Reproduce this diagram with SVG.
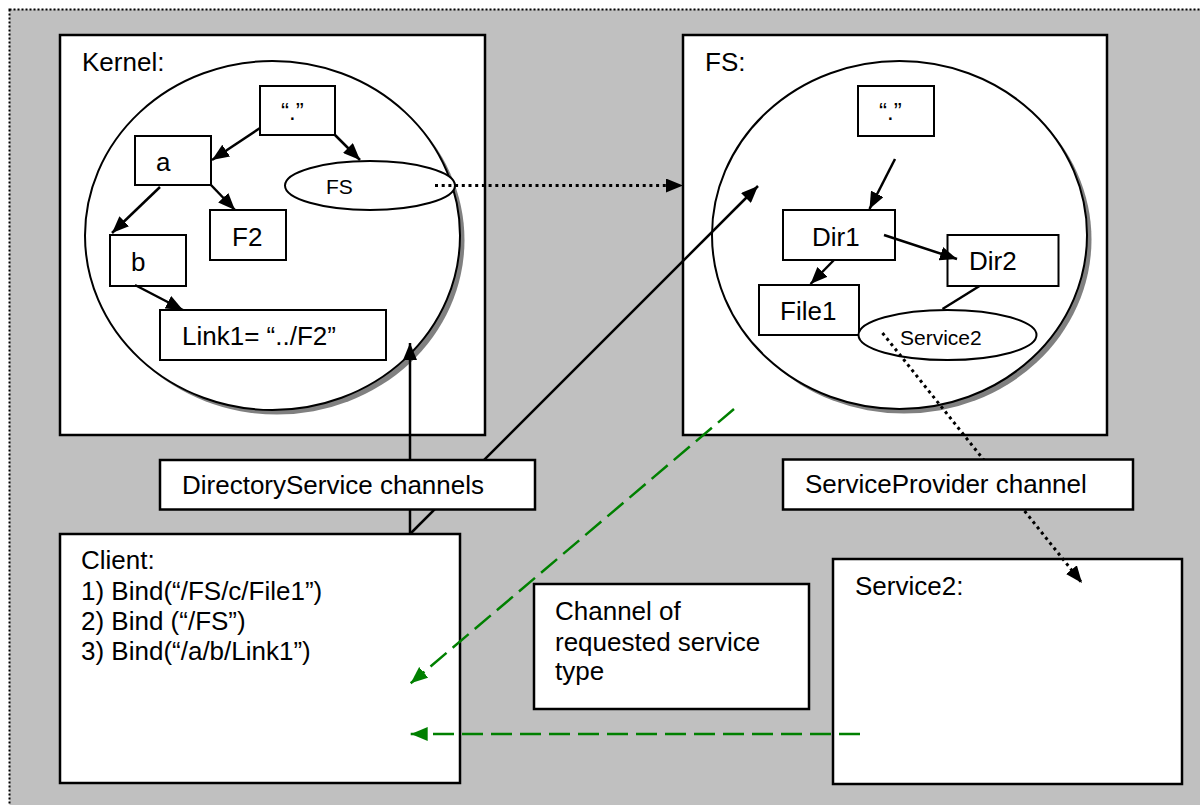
<svg xmlns="http://www.w3.org/2000/svg" width="1200" height="805" viewBox="0 0 1200 805">
  <defs>
    <style>
      text { font-family: "Liberation Sans", Arial, sans-serif; fill: #000; }
      .lbl { font-size: 26px; }
      .sm { font-size: 21px; }
      .q { font-size: 24px; }
      .box { fill: #fff; stroke: #000; stroke-width: 2.5; }
      .node { fill: #fff; stroke: #000; stroke-width: 2; }
      .disc { fill: #fff; stroke: #000; stroke-width: 2; }
      .shadow { fill: #808080; }
      .solid { fill: none; stroke: #000; stroke-width: 2.5; }
      .dotted { fill: none; stroke: #000; stroke-width: 3; stroke-dasharray: 3 3.7; }
      .dashed { fill: none; stroke: #008000; stroke-width: 2.5; stroke-dasharray: 21 8; }
    </style>
    <marker id="ah" markerUnits="userSpaceOnUse" markerWidth="17" markerHeight="14" refX="17" refY="7" orient="auto">
      <path d="M0,0 L17,7 L0,14 z" fill="#000"/>
    </marker>
    <marker id="ahg" markerUnits="userSpaceOnUse" markerWidth="17" markerHeight="14" refX="17" refY="7" orient="auto">
      <path d="M0,0 L17,7 L0,14 z" fill="#008000"/>
    </marker>
  </defs>

  <!-- background canvas with dotted frame -->
  <rect x="0" y="0" width="1200" height="805" fill="#fff"/>
  <rect x="9.5" y="9.5" width="1200" height="805" fill="#c0c0c0" stroke="#000" stroke-width="2" stroke-dasharray="2 2"/>

  <!-- Kernel process -->
  <g id="kernel">
    <rect class="box" x="60" y="35" width="425" height="400"/>
    <text class="lbl" x="82" y="71">Kernel:</text>
    <ellipse class="shadow" cx="277" cy="240" rx="187.5" ry="174.5"/>
    <ellipse class="disc" cx="272.5" cy="235.5" rx="187.5" ry="174.5"/>
  </g>
  <g id="k-root">
    <rect class="node" x="260" y="86" width="75" height="49"/>
    <text class="q" x="281" y="120">“.”</text>
  </g>
  <g id="k-a">
    <rect class="node" x="135" y="136" width="76" height="49"/>
    <text class="lbl" x="156" y="171">a</text>
  </g>
  <g id="k-f2">
    <rect class="node" x="210" y="210" width="76" height="50"/>
    <text class="lbl" x="232" y="246">F2</text>
  </g>
  <g id="k-b">
    <rect class="node" x="110" y="235" width="76" height="51"/>
    <text class="lbl" x="131" y="271">b</text>
  </g>
  <g id="k-link1">
    <rect class="node" x="160" y="310" width="226" height="50"/>
    <text class="lbl" x="182" y="345">Link1= “../F2”</text>
  </g>
  <g id="k-fs">
    <ellipse class="disc" cx="370" cy="185.5" rx="85" ry="24.5"/>
    <text class="sm" x="326" y="194">FS</text>
  </g>

  <!-- FS process -->
  <g id="fs">
    <rect class="box" x="683" y="35" width="424" height="400"/>
    <text class="lbl" x="705" y="71">FS:</text>
    <ellipse class="shadow" cx="904" cy="239.5" rx="187.5" ry="174"/>
    <ellipse class="disc" cx="899.5" cy="235" rx="187.5" ry="174"/>
  </g>
  <g id="fs-root">
    <rect class="node" x="858" y="86" width="76" height="50"/>
    <text class="q" x="879" y="120">“.”</text>
  </g>
  <g id="fs-dir1">
    <rect class="node" x="783" y="210" width="112" height="50"/>
    <text class="lbl" x="812" y="246">Dir1</text>
  </g>
  <g id="fs-dir2">
    <rect class="node" x="947.5" y="235" width="111" height="51"/>
    <text class="lbl" x="969" y="270">Dir2</text>
  </g>
  <g id="fs-file1">
    <rect class="node" x="759" y="285" width="100" height="50"/>
    <text class="lbl" x="780" y="320">File1</text>
  </g>
  <g id="fs-service2">
    <ellipse class="disc" cx="947.5" cy="335" rx="89" ry="25"/>
    <text class="sm" x="900" y="345">Service2</text>
  </g>

  <!-- Client process -->
  <g id="client">
    <rect class="box" x="60" y="534" width="400" height="249"/>
    <text class="lbl" x="81" y="569">Client:</text>
    <text class="lbl" x="81" y="600">1) Bind(“/FS/c/File1”)</text>
    <text class="lbl" x="81" y="630">2) Bind (“/FS”)</text>
    <text class="lbl" x="81" y="660">3) Bind(“/a/b/Link1”)</text>
  </g>

  <!-- Service2 process -->
  <g id="service2">
    <rect class="box" x="833" y="559" width="349" height="225"/>
    <text class="lbl" x="855" y="595">Service2:</text>
  </g>

  <!-- note box -->
  <g id="channel-note">
    <rect class="box" x="534" y="584" width="275" height="125"/>
    <text class="lbl" x="555" y="620">Channel of</text>
    <text class="lbl" x="555" y="651">requested service</text>
    <text class="lbl" x="555" y="680">type</text>
  </g>

  <!-- connectors -->
  <g id="connectors">
    <!-- kernel namespace tree -->
    <line class="solid" x1="260" y1="128" x2="212" y2="160" marker-end="url(#ah)"/>
    <line class="solid" x1="335" y1="135" x2="360" y2="160" marker-end="url(#ah)"/>
    <line class="solid" x1="211" y1="185" x2="235" y2="210" marker-end="url(#ah)"/>
    <line class="solid" x1="160" y1="187" x2="112" y2="233" marker-end="url(#ah)"/>
    <line class="solid" x1="135" y1="285" x2="183" y2="310" marker-end="url(#ah)"/>
    <!-- FS namespace tree -->
    <line class="solid" x1="895" y1="159" x2="869.5" y2="209" marker-end="url(#ah)"/>
    <line class="solid" x1="884" y1="235" x2="957" y2="259" marker-end="url(#ah)"/>
    <line class="solid" x1="834" y1="260" x2="810.5" y2="284" marker-end="url(#ah)"/>
    <line class="solid" x1="979.5" y1="286" x2="942.5" y2="309"/>
    <!-- mount point to FS process -->
    <line class="dotted" x1="435" y1="185.5" x2="683" y2="185.5" marker-end="url(#ah)"/>
    <!-- service provider channel -->
    <line class="dotted" x1="882.5" y1="333" x2="1082" y2="583" marker-end="url(#ah)"/>
    <!-- directory service channels -->
    <line class="solid" x1="410" y1="534" x2="410" y2="343" marker-end="url(#ah)"/>
    <line class="solid" x1="410" y1="534" x2="758" y2="186" marker-end="url(#ah)"/>
    <!-- requested service channels -->
    <line class="dashed" x1="734" y1="409" x2="410.7" y2="683.3" marker-end="url(#ahg)"/>
    <line class="dashed" x1="860" y1="734" x2="410.7" y2="734" marker-end="url(#ahg)"/>
  </g>

  <!-- channel labels drawn over the lines -->
  <g id="ds-label">
    <rect class="box" x="160" y="460" width="375" height="49.5"/>
    <text class="lbl" x="182" y="494">DirectoryService channels</text>
  </g>
  <g id="sp-label">
    <rect class="box" x="783" y="459.5" width="350" height="50"/>
    <text class="lbl" x="805" y="493">ServiceProvider channel</text>
  </g>
</svg>
